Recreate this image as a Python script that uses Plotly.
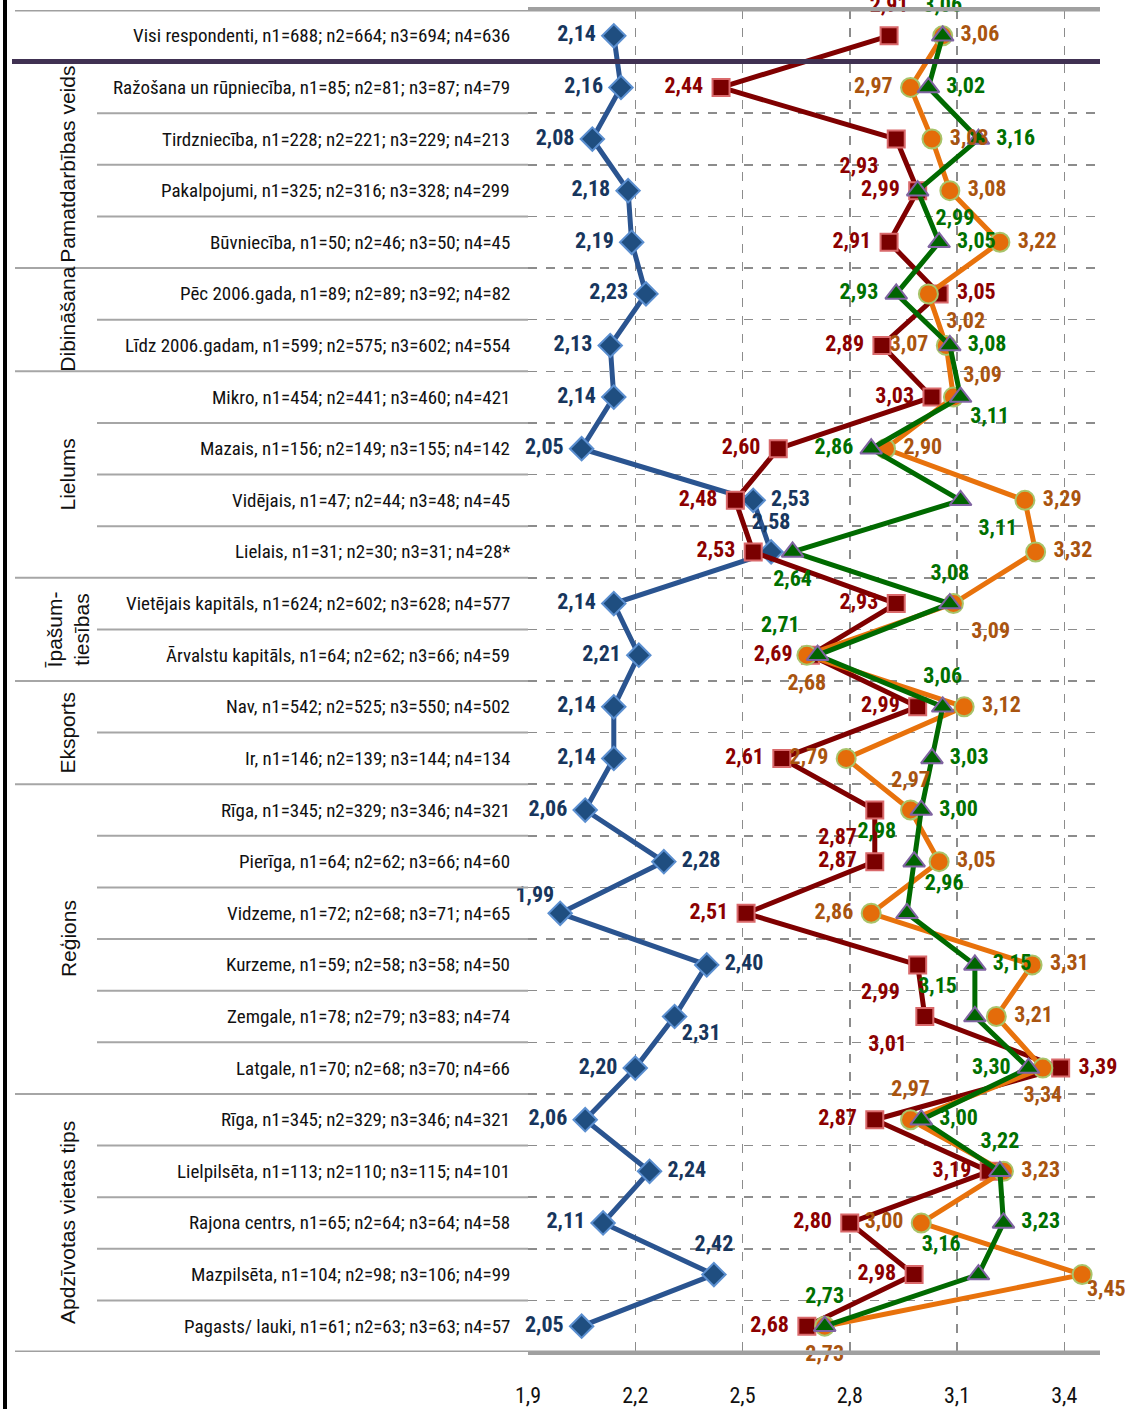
import plotly.graph_objects as go

# ---------------- data ----------------
row_labels = [
    "Visi respondenti, n1=688; n2=664; n3=694; n4=636",
    "Ražošana un rūpniecība, n1=85; n2=81; n3=87; n4=79",
    "Tirdzniecība, n1=228; n2=221; n3=229; n4=213",
    "Pakalpojumi, n1=325; n2=316; n3=328; n4=299",
    "Būvniecība, n1=50; n2=46; n3=50; n4=45",
    "Pēc 2006.gada, n1=89; n2=89; n3=92; n4=82",
    "Līdz 2006.gadam, n1=599; n2=575; n3=602; n4=554",
    "Mikro, n1=454; n2=441; n3=460; n4=421",
    "Mazais, n1=156; n2=149; n3=155; n4=142",
    "Vidējais, n1=47; n2=44; n3=48; n4=45",
    "Lielais, n1=31; n2=30; n3=31; n4=28*",
    "Vietējais kapitāls, n1=624; n2=602; n3=628; n4=577",
    "Ārvalstu kapitāls, n1=64; n2=62; n3=66; n4=59",
    "Nav, n1=542; n2=525; n3=550; n4=502",
    "Ir, n1=146; n2=139; n3=144; n4=134",
    "Rīga, n1=345; n2=329; n3=346; n4=321",
    "Pierīga, n1=64; n2=62; n3=66; n4=60",
    "Vidzeme, n1=72; n2=68; n3=71; n4=65",
    "Kurzeme, n1=59; n2=58; n3=58; n4=50",
    "Zemgale, n1=78; n2=79; n3=83; n4=74",
    "Latgale, n1=70; n2=68; n3=70; n4=66",
    "Rīga, n1=345; n2=329; n3=346; n4=321",
    "Lielpilsēta, n1=113; n2=110; n3=115; n4=101",
    "Rajona centrs, n1=65; n2=64; n3=64; n4=58",
    "Mazpilsēta, n1=104; n2=98; n3=106; n4=99",
    "Pagasts/ lauki, n1=61; n2=63; n3=63; n4=57",
]

groups = [
    ("Pamatdarbības veids", 1, 4),
    ("Dibināšana", 5, 6),
    ("Lielums", 7, 10),
    ("Īpašum-<br>tiesības", 11, 12),
    ("Eksports", 13, 14),
    ("Reģions", 15, 20),
    ("Apdzīvotas vietas tips", 21, 25),
]

n1_values = [2.14, 2.16, 2.08, 2.18, 2.19, 2.23, 2.13, 2.14, 2.05, 2.53, 2.58, 2.14, 2.21,
             2.14, 2.14, 2.06, 2.28, 1.99, 2.40, 2.31, 2.20, 2.06, 2.24, 2.11, 2.42, 2.05]
n2_values = [2.91, 2.44, 2.93, 2.99, 2.91, 3.05, 2.89, 3.03, 2.60, 2.48, 2.53, 2.93, 2.69,
             2.99, 2.61, 2.87, 2.87, 2.51, 2.99, 3.01, 3.39, 2.87, 3.19, 2.80, 2.98, 2.68]
n3_values = [3.06, 2.97, 3.03, 3.08, 3.22, 3.02, 3.07, 3.09, 2.90, 3.29, 3.32, 3.09, 2.68,
             3.12, 2.79, 2.97, 3.05, 2.86, 3.31, 3.21, 3.34, 2.97, 3.23, 3.00, 3.45, 2.73]
n4_values = [3.06, 3.02, 3.16, 2.99, 3.05, 2.93, 3.08, 3.11, 2.86, 3.11, 2.64, 3.08, 2.71,
             3.06, 3.03, 3.00, 2.98, 2.96, 3.15, 3.15, 3.30, 3.00, 3.22, 3.23, 3.16, 2.73]

tick_values = [1.9, 2.2, 2.5, 2.8, 3.1, 3.4]

# ---------------- label placement (style) ----------------
ML, MR, TL, TC, TR, BL, BC, BR = ("middle left", "middle right", "top left", "top center",
                                  "top right", "bottom left", "bottom center", "bottom right")
pos1 = [ML, ML, ML, ML, ML, ML, ML, ML, ML, MR, TC, ML, ML, ML, ML, ML, MR, TL, MR, BR,
        ML, ML, MR, ML, TC, ML]
pos2 = [TC, ML, BL, ML, ML, MR, ML, ML, ML, ML, ML, ML, ML, ML, ML, BL, ML, ML, BL, BL,
        MR, ML, ML, ML, ML, ML]
pos3 = [MR, ML, MR, MR, MR, BR, ML, TR, MR, MR, MR, BR, BC, MR, ML, TC, MR, ML, MR, MR,
        BC, TC, MR, ML, BR, BC]
pos4 = [TC, MR, MR, BR, MR, ML, MR, BR, ML, BR, BC, TC, TL, TC, MR, MR, TL, TR, MR, TL,
        ML, MR, TC, MR, TL, TC]
# label distance from the point (size of an invisible marker)
gap1 = [27] * 17 + [8] + [27] + [10] + [27] * 6
gap2 = [27] * 26
gap3 = [27] * 7 + [14] + [27] * 16 + [6] + [27]
gap4 = [27] * 7 + [14] + [27] * 18

W, H = 1125, 1409
TOP, BOT = 10, 1352
PLOT_L, PLOT_R = 528, 1100
rows = list(range(len(row_labels)))

def fmt(v):
    return f"{v:.2f}".replace(".", ",")

NARROW = "Liberation Sans Narrow, Arial Narrow, Roboto Condensed, DejaVu Sans Condensed, sans-serif"

series = [
    (n1_values, pos1, gap1, "#2A5490", "diamond", "#1F4E80", "#5B8FD0", 18, "#17365D"),
    (n2_values, pos2, gap2, "#7F0000", "square", "#7A0000", "#D9696B", 17, "#8B0000"),
    (n3_values, pos3, gap3, "#E8720C", "circle", "#E46C0A", "#A8C46A", 19, "#A9540F"),
    (n4_values, pos4, gap4, "#006A00", "triangle-up", "#006400", "#8064A2", 19, "#007000"),
]

fig = go.Figure()
for vals, pos, gap, lc, sym, fc, bc, ms, tc in series:
    fig.add_trace(go.Scatter(
        x=vals, y=rows, mode="lines+markers",
        line=dict(color=lc, width=5),
        marker=dict(symbol=sym, size=ms, color=fc, line=dict(color=bc, width=2)),
        cliponaxis=False, showlegend=False, hoverinfo="skip",
    ))
for vals, pos, gap, lc, sym, fc, bc, ms, tc in series:
    fig.add_trace(go.Scatter(
        x=vals, y=rows, mode="markers+text",
        marker=dict(size=gap, color="white", opacity=0, line=dict(width=0)),
        text=[fmt(v) for v in vals], textposition=pos,
        textfont=dict(family=NARROW, size=22, color=tc, weight="bold"),
        cliponaxis=False, showlegend=False, hoverinfo="skip",
    ))

shapes = []
group_bounds = {g[1] - 0.5 for g in groups} | {25.5}
for k in range(len(row_labels) - 1):
    b = k + 0.5
    if b == 0.5:
        continue
    x0 = 15 if b in group_bounds else 97
    shapes.append(dict(type="line", xref="paper", yref="y", x0=x0 / W, x1=PLOT_L / W,
                       y0=b, y1=b, line=dict(color="#A6A6A6", width=2)))
for b in (-0.5, 25.5):
    shapes.append(dict(type="line", xref="paper", yref="y", x0=15 / W, x1=PLOT_R / W,
                       y0=b, y1=b, line=dict(color="#A0A0A0", width=3)))
shapes.append(dict(type="line", xref="paper", yref="y", x0=12 / W, x1=PLOT_R / W,
                   y0=0.5, y1=0.5, line=dict(color="#403152", width=5)))
shapes.append(dict(type="line", xref="paper", yref="paper", x0=5 / W, x1=5 / W,
                   y0=-0.05, y1=1.01, line=dict(color="#000000", width=4)))

annotations = []
for i, lab in enumerate(row_labels):
    annotations.append(dict(xref="paper", yref="y", x=512 / W, y=i, text=lab,
                            xanchor="right", yanchor="middle", showarrow=False,
                            font=dict(family=NARROW, size=19, color="#111111")))
for name, a, b in groups:
    annotations.append(dict(xref="paper", yref="y", x=68 / W, y=(a + b) / 2, text=name,
                            textangle=-90, xanchor="center", yanchor="middle",
                            showarrow=False,
                            font=dict(family="Liberation Sans, Arial, sans-serif", size=21,
                                      color="#111111")))

fig.update_layout(
    width=W, height=H,
    margin=dict(l=0, r=0, t=TOP, b=H - BOT, autoexpand=False),
    paper_bgcolor="white", plot_bgcolor="white",
    shapes=shapes, annotations=annotations,
    xaxis=dict(domain=[PLOT_L / W, PLOT_R / W], range=[1.9, 3.5], automargin=False,
               tickvals=tick_values, ticktext=[f"{t:.1f}".replace(".", ",") for t in tick_values],
               showgrid=True, gridcolor="#8C8C8C", griddash="dash", gridwidth=1.5,
               showline=True, linecolor="#A0A0A0", linewidth=3, mirror=True,
               ticks="", ticklabelstandoff=22, zeroline=False,
               tickfont=dict(family=NARROW, size=22, color="#111111")),
    yaxis=dict(range=[25.5, -0.5], tickvals=[k + 0.5 for k in range(1, 25)], automargin=False,
               showticklabels=False, showgrid=True, gridcolor="#8C8C8C", griddash="dash",
               gridwidth=1.5, zeroline=False, showline=False),
)

fig.write_html("out.html", config={"displayModeBar": False, "staticPlot": True},
               post_script="document.body.style.margin='0px';")
